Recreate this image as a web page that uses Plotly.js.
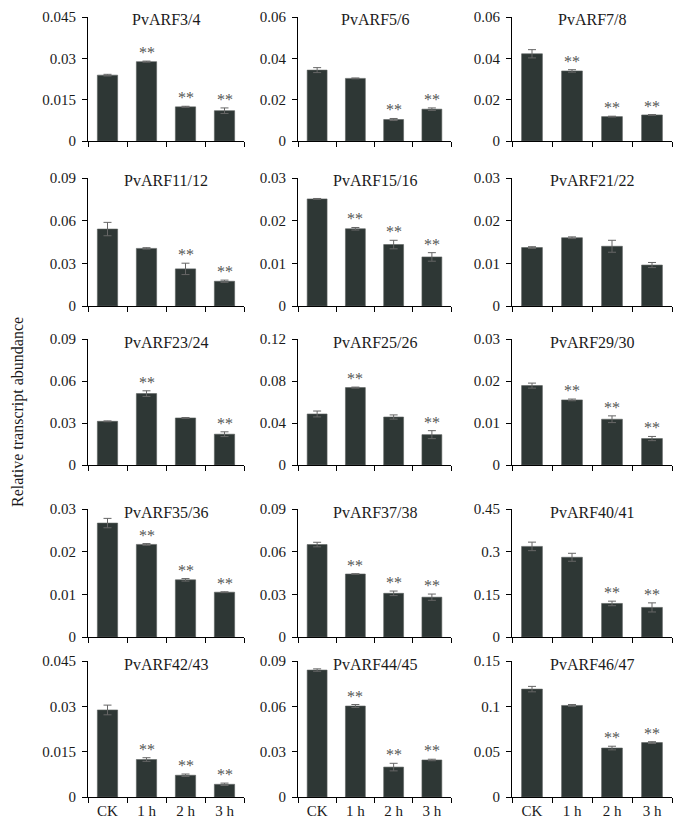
<!DOCTYPE html>
<html>
<head>
<meta charset="utf-8">
<script src="https://cdn.plot.ly/plotly-3.0.1.min.js"></script>
<style>html,body{margin:0;padding:0;background:#fff;}#chart{width:685px;height:830px;}</style>
</head>
<body>
<div id="chart"></div>
<script>
// ---- data ----
const categories = ["CK", "1 h", "2 h", "3 h"];
const genes = ["PvARF3/4", "PvARF5/6", "PvARF7/8",
               "PvARF11/12", "PvARF15/16", "PvARF21/22",
               "PvARF23/24", "PvARF25/26", "PvARF29/30",
               "PvARF35/36", "PvARF37/38", "PvARF40/41",
               "PvARF42/43", "PvARF44/45", "PvARF46/47"];
const means = [
  [0.0239, 0.0288, 0.0124, 0.0110],
  [0.0343, 0.0303, 0.0104, 0.0154],
  [0.0422, 0.0339, 0.0118, 0.0126],
  [0.0541, 0.0405, 0.0261, 0.0174],
  [0.0251, 0.0181, 0.0144, 0.0115],
  [0.0137, 0.0160, 0.0140, 0.0096],
  [0.0312, 0.0510, 0.0336, 0.0220],
  [0.0486, 0.0737, 0.0457, 0.0289],
  [0.0189, 0.0155, 0.0109, 0.0063],
  [0.0267, 0.0217, 0.0134, 0.0105],
  [0.0650, 0.0443, 0.0307, 0.0280],
  [0.3185, 0.2803, 0.1180, 0.1040],
  [0.0288, 0.0124, 0.0072, 0.0042],
  [0.0840, 0.0602, 0.0198, 0.0245],
  [0.1190, 0.1010, 0.0540, 0.0600]
];
const errors = [
  [0.0003, 0.0002, 0.0002, 0.0010],
  [0.0012, 0.0002, 0.0005, 0.0006],
  [0.0020, 0.0006, 0.0002, 0.0002],
  [0.0047, 0.0005, 0.0040, 0.0008],
  [0.0001, 0.0003, 0.0010, 0.0010],
  [0.0002, 0.0002, 0.0014, 0.0006],
  [0.0003, 0.0020, 0.0003, 0.0017],
  [0.0028, 0.0005, 0.0020, 0.0038],
  [0.0006, 0.0002, 0.0008, 0.0005],
  [0.0011, 0.0002, 0.0003, 0.0001],
  [0.0016, 0.0002, 0.0016, 0.0022],
  [0.0150, 0.0140, 0.0080, 0.0160],
  [0.0016, 0.0006, 0.0004, 0.0004],
  [0.0008, 0.0010, 0.0025, 0.0005],
  [0.0030, 0.0010, 0.0020, 0.0010]
];
const stars = [
  [0,1,1,1],[0,0,1,1],[0,1,1,1],
  [0,0,1,1],[0,1,1,1],[0,0,0,0],
  [0,1,0,1],[0,1,0,1],[0,1,1,1],
  [0,1,1,1],[0,1,1,1],[0,0,1,1],
  [0,1,1,1],[0,1,1,1],[0,0,1,1]
];
const yMax = [0.045, 0.06, 0.06, 0.09, 0.03, 0.03, 0.09, 0.12, 0.03, 0.03, 0.09, 0.45, 0.045, 0.09, 0.15];
const yTickVals = [
  [0, 0.015, 0.03, 0.045], [0, 0.02, 0.04, 0.06], [0, 0.02, 0.04, 0.06],
  [0, 0.03, 0.06, 0.09], [0, 0.01, 0.02, 0.03], [0, 0.01, 0.02, 0.03],
  [0, 0.03, 0.06, 0.09], [0, 0.04, 0.08, 0.12], [0, 0.01, 0.02, 0.03],
  [0, 0.01, 0.02, 0.03], [0, 0.03, 0.06, 0.09], [0, 0.15, 0.3, 0.45],
  [0, 0.015, 0.03, 0.045], [0, 0.03, 0.06, 0.09], [0, 0.05, 0.1, 0.15]
];
const yTickText = [
  ["0", "0.015", "0.03", "0.045"], ["0", "0.02", "0.04", "0.06"], ["0", "0.02", "0.04", "0.06"],
  ["0", "0.03", "0.06", "0.09"], ["0", "0.01", "0.02", "0.03"], ["0", "0.01", "0.02", "0.03"],
  ["0", "0.03", "0.06", "0.09"], ["0", "0.04", "0.08", "0.12"], ["0", "0.01", "0.02", "0.03"],
  ["0", "0.01", "0.02", "0.03"], ["0", "0.03", "0.06", "0.09"], ["0", "0.15", "0.3", "0.45"],
  ["0", "0.015", "0.03", "0.045"], ["0", "0.03", "0.06", "0.09"], ["0", "0.05", "0.1", "0.15"]
];
const yTitle = "Relative transcript abundance";

// ---- layout geometry (pixels) ----
const W = 685, H = 830;
const colPx = [[88, 244], [298, 451], [512, 672]];
const rowPx = [[17, 141], [178, 306], [339, 465], [509, 637], [661, 797]];
const FONT = "Liberation Serif, Times New Roman, serif";
const barColor = "#2e3735";

const traces = [];
const layout = {
  width: W, height: H,
  margin: {l: 0, r: 0, t: 0, b: 0},
  paper_bgcolor: "#fff", plot_bgcolor: "#fff",
  showlegend: false,
  bargap: 0.48,
  font: {family: FONT, size: 15, color: "#1a1a1a"},
  annotations: []
};

for (let i = 0; i < genes.length; i++) {
  const r = Math.floor(i / 3), c = i % 3;
  const n = i + 1;
  const sfx = n === 1 ? "" : String(n);
  traces.push({
    type: "bar",
    x: categories,
    y: means[i],
    xaxis: "x" + sfx,
    yaxis: "y" + sfx,
    marker: {color: barColor, line: {color: "#5a5f5e", width: 0.6}},
    error_y: {type: "data", array: errors[i], visible: true, color: "#666", thickness: 1, width: 4},
    hoverinfo: "none"
  });
  layout["xaxis" + sfx] = {
    domain: [colPx[c][0] / W, colPx[c][1] / W],
    anchor: "y" + sfx,
    type: "category",
    range: [-0.5, 3.5],
    showline: true, linecolor: "#000", linewidth: 1,
    ticks: "outside", ticklen: 5, tickcolor: "#000", tickwidth: 1,
    tickson: "boundaries",
    showgrid: false, zeroline: false,
    showticklabels: r === 4,
    tickfont: {family: FONT, size: 15, color: "#1a1a1a"},
    fixedrange: true
  };
  layout["yaxis" + sfx] = {
    domain: [1 - rowPx[r][1] / H, 1 - rowPx[r][0] / H],
    anchor: "x" + sfx,
    range: [0, yMax[i]],
    tickmode: "array",
    tickvals: yTickVals[i],
    ticktext: yTickText[i],
    showline: true, linecolor: "#000", linewidth: 1,
    ticks: "outside", ticklen: 5, tickcolor: "#000", tickwidth: 1,
    ticklabelstandoff: 3,
    showgrid: false, zeroline: false,
    tickfont: {family: FONT, size: 15, color: "#1a1a1a"},
    fixedrange: true
  };
  layout.annotations.push({
    xref: "x" + sfx + " domain", yref: "y" + sfx + " domain",
    x: 0.5, y: 1, yanchor: "middle", xanchor: "center", yshift: -3,
    text: genes[i], showarrow: false,
    font: {family: FONT, size: 16, color: "#1a1a1a"}
  });
  for (let j = 0; j < categories.length; j++) {
    if (stars[i][j]) {
      layout.annotations.push({
        xref: "x" + sfx, yref: "y" + sfx,
        x: categories[j], y: means[i][j] + errors[i][j],
        yanchor: "bottom", xanchor: "center", yshift: -2,
        text: "**", showarrow: false,
        font: {family: FONT, size: 16, color: "#555555"}
      });
    }
  }
}

layout.annotations.push({
  xref: "paper", yref: "paper",
  x: 18 / W, y: 1 - 412 / H,
  xanchor: "center", yanchor: "middle",
  textangle: -90,
  text: yTitle, showarrow: false,
  font: {family: FONT, size: 16, color: "#1a1a1a"}
});

Plotly.newPlot("chart", traces, layout, {staticPlot: true, displayModeBar: false});
</script>
</body>
</html>
